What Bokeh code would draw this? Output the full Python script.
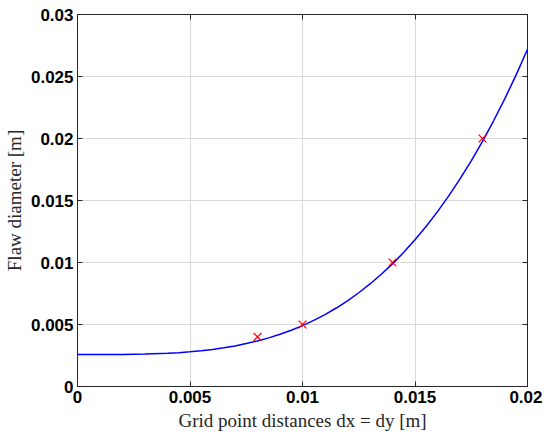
from bokeh.plotting import figure
from bokeh.models import LinearAxis, FixedTicker, Range1d, CustomJSTickFormatter
from bokeh.embed import file_html
from bokeh.resources import INLINE

# Fitted curve
curve_x = [0.0000, 0.0010, 0.0020, 0.0030, 0.0040, 0.0045, 0.0050, 0.0055, 0.0060, 0.0065,
           0.0070, 0.0075, 0.0080, 0.0085, 0.0090, 0.0095, 0.0100, 0.0105, 0.0110, 0.0115,
           0.0120, 0.0125, 0.0130, 0.0135, 0.0140, 0.0145, 0.0150, 0.0155, 0.0160, 0.0165,
           0.0170, 0.0175, 0.0180, 0.0185, 0.0190, 0.0195, 0.0200]
curve_y = [0.00258, 0.00258, 0.00259, 0.00262, 0.00268, 0.00273, 0.00280, 0.00289, 0.00299,
           0.00312, 0.00327, 0.00346, 0.00367, 0.00392, 0.00421, 0.00454, 0.00491, 0.00533,
           0.00580, 0.00633, 0.00691, 0.00756, 0.00827, 0.00905, 0.00989, 0.01082, 0.01183,
           0.01292, 0.01410, 0.01537, 0.01674, 0.01820, 0.01977, 0.02145, 0.02324, 0.02515,
           0.02720]

# Measured points
pts_x = [0.008, 0.010, 0.014, 0.018]
pts_y = [0.004, 0.005, 0.010, 0.020]

x_ticks = [0, 0.005, 0.01, 0.015, 0.02]
y_ticks = [0, 0.005, 0.01, 0.015, 0.02, 0.025, 0.03]

x_label = "Grid point distances dx = dy [m]"
y_label = "Flaw diameter [m]"

p = figure(frame_width=450, frame_height=372, output_backend="svg", toolbar_location=None,
           x_range=Range1d(0, 0.02), y_range=Range1d(0, 0.03),
           min_border_left=69, min_border_right=15, min_border_top=14, min_border_bottom=41,
           x_axis_label=x_label, y_axis_label=y_label)

p.line(curve_x, curve_y, line_color="#0000ff", line_width=1.5)
p.scatter(pts_x, pts_y, marker="x", size=11, line_color="#ff0000", line_width=1.2)

fmt = CustomJSTickFormatter(code="""
var s = tick.toFixed(3);
s = s.replace(/0+$/, '').replace(/\\.$/, '');
return s;
""")
blank = CustomJSTickFormatter(code="return '';")

axis_color = "#262626"
for ax, ticks in ((p.xaxis[0], x_ticks), (p.yaxis[0], y_ticks)):
    ax.ticker = FixedTicker(ticks=ticks)
    ax.formatter = fmt
    ax.major_tick_in = 5
    ax.major_tick_out = 0
    ax.minor_tick_line_color = None
    ax.axis_line_color = axis_color
    ax.major_tick_line_color = axis_color
    ax.major_label_text_font = "Liberation Sans"
    ax.major_label_text_font_style = "bold"
    ax.major_label_text_font_size = "17px"
    ax.major_label_text_color = "#000000"
    ax.axis_label_text_font = "Liberation Serif"
    ax.axis_label_text_font_style = "normal"
    ax.axis_label_text_font_size = "19px"
    ax.axis_label_text_color = "#262626"

p.xaxis[0].axis_label_standoff = 4
p.yaxis[0].axis_label_standoff = 3
p.xaxis[0].major_label_standoff = 4
p.yaxis[0].major_label_standoff = 4

top = LinearAxis(ticker=FixedTicker(ticks=x_ticks), formatter=blank,
                 major_tick_in=5, major_tick_out=0, minor_tick_line_color=None,
                 axis_line_color=axis_color, major_tick_line_color=axis_color)
right = LinearAxis(ticker=FixedTicker(ticks=y_ticks), formatter=blank,
                   major_tick_in=5, major_tick_out=0, minor_tick_line_color=None,
                   axis_line_color=axis_color, major_tick_line_color=axis_color)
p.add_layout(top, "above")
p.add_layout(right, "right")

p.xgrid.ticker = FixedTicker(ticks=x_ticks)
p.ygrid.ticker = FixedTicker(ticks=y_ticks)
p.grid.grid_line_color = "#d9d9d9"
p.grid.grid_line_width = 1
p.outline_line_color = None
p.background_fill_color = "white"
p.border_fill_color = "white"

open("out.html", "w").write(file_html(p, INLINE))
